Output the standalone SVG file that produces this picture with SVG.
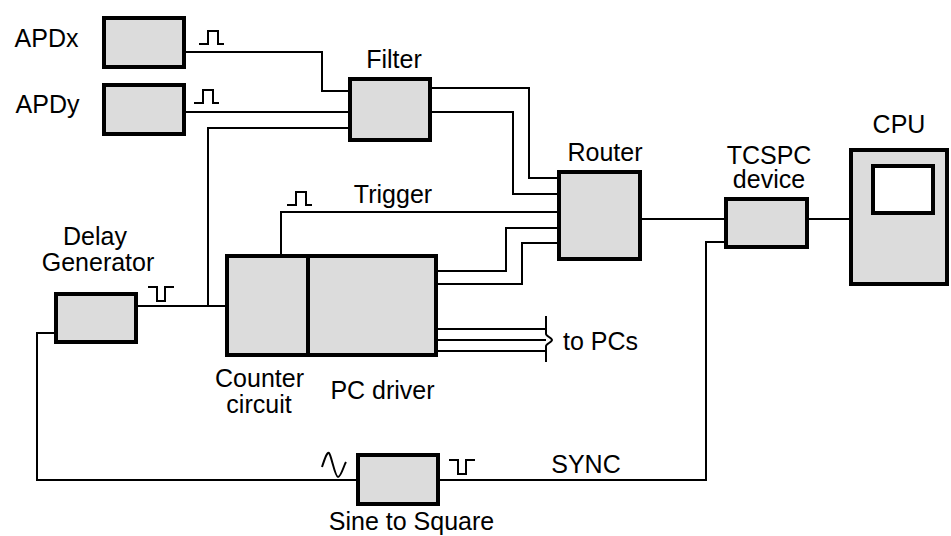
<svg xmlns="http://www.w3.org/2000/svg" width="951" height="536" viewBox="0 0 951 536">
<style>
.box{fill:#dcdcdc;stroke:#000;stroke-width:4}
.scr{fill:#fff;stroke:#000;stroke-width:4}
.ln{fill:none;stroke:#000;stroke-width:2}
.sig{fill:none;stroke:#000;stroke-width:2}
text{font-family:"Liberation Sans",Arial,sans-serif;font-size:25px;fill:#000}
.m{text-anchor:middle}
</style>
<defs>
<path id="pp" d="M0,0 h9 v-13 h10 v13 h6"/>
<path id="np" d="M0,0 h9 v14 h8 v-14 h9"/>
</defs>
<g id="connectors">
<path class="ln" d="M186,52 H322 V91 H348"/>
<path class="ln" d="M186,112 H348"/>
<path class="ln" d="M348,128 H208 V306"/>
<path class="ln" d="M138,306 H225"/>
<path class="ln" d="M432,88 H529 V178 H557"/>
<path class="ln" d="M432,112 H513 V194 H557"/>
<path class="ln" d="M281,254 V212 H557"/>
<path class="ln" d="M438,271 H506 V228 H557"/>
<path class="ln" d="M438,284 H522 V243 H557"/>
<path class="ln" d="M438,329 H546 M438,340 H546 M438,351 H546"/>
<path class="ln" d="M546,316 V334 C546,336 552,338 552,340 C552,342 546,344 546,346 V362"/>
<path class="ln" d="M642,219 H724"/>
<path class="ln" d="M809,219 H849"/>
<path class="ln" d="M440,480 H706 V242 H724"/>
<path class="ln" d="M356,480 H37 V333 H54"/>
<use href="#pp" class="sig" x="199" y="44"/>
<use href="#pp" class="sig" x="194" y="103"/>
<use href="#pp" class="sig" x="287" y="205"/>
<use href="#np" class="sig" x="148" y="287"/>
<use href="#np" class="sig" x="449" y="460"/>
<path class="sig" d="M322,467 C325,458 327,452 329,453 C331,454 335,477 338,477 C341,477 344,465 346,462"/>
</g>
<g id="apdx"><rect class="box" x="104" y="18" width="80" height="49"/><text class="m" x="46.5" y="47">APDx</text></g>
<g id="apdy"><rect class="box" x="104" y="85" width="80" height="49"/><text class="m" x="47.5" y="113">APDy</text></g>
<g id="filter"><rect class="box" x="350" y="79" width="80" height="61"/><text class="m" x="394" y="68">Filter</text></g>
<g id="router"><rect class="box" x="559" y="172" width="81" height="87"/><text class="m" x="605" y="161">Router</text></g>
<g id="tcspc"><rect class="box" x="726" y="199" width="81" height="48"/><text class="m" x="769" y="164">TCSPC</text><text class="m" x="769" y="188">device</text></g>
<g id="cpu"><rect class="box" x="851" y="150" width="96" height="134"/><rect class="scr" x="873" y="166" width="60" height="47"/><text class="m" x="899" y="133">CPU</text></g>
<g id="delay"><rect class="box" x="56" y="294" width="80" height="48"/><text class="m" x="95" y="245">Delay</text><text class="m" x="98" y="271">Generator</text></g>
<g id="counter-pcdriver"><rect class="box" x="227" y="256" width="209" height="99"/><line x1="308" y1="256" x2="308" y2="355" stroke="#000" stroke-width="4"/><text class="m" x="259.5" y="387">Counter</text><text class="m" x="259" y="413">circuit</text><text class="m" x="382.5" y="399">PC driver</text></g>
<g id="topcs"><text x="563" y="350">to PCs</text></g>
<g id="trigger"><text class="m" x="393" y="203">Trigger</text></g>
<g id="sync"><text class="m" x="586" y="473">SYNC</text></g>
<g id="sine2square"><rect class="box" x="358" y="455" width="80" height="49"/><text class="m" x="411.5" y="530">Sine to Square</text></g>
</svg>
